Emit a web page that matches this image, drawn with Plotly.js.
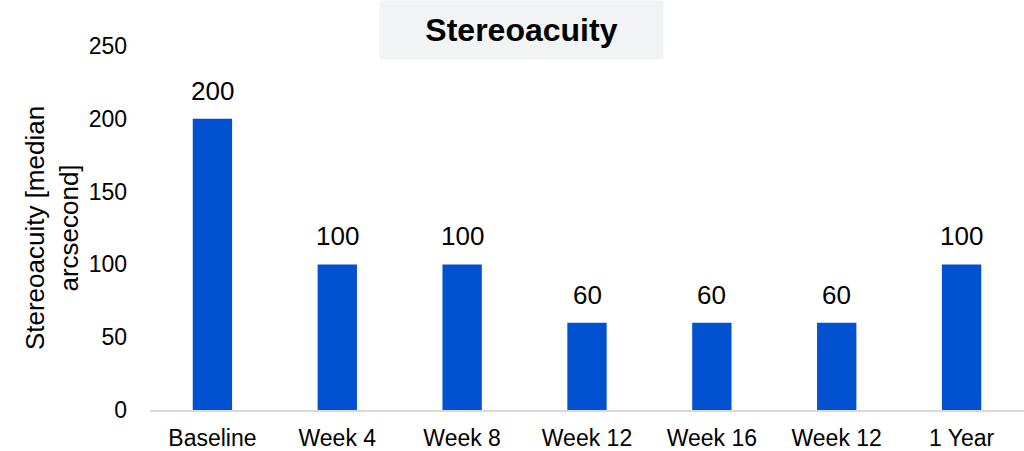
<!DOCTYPE html>
<html>
<head>
<meta charset="utf-8">
<script src="https://cdn.plot.ly/plotly-3.0.1.min.js"></script>
<style>html,body{margin:0;padding:0;background:#fff;}#chart{width:1024px;height:451px;}</style>
</head>
<body>
<div id="chart"></div>
<script>
const categories = ["Baseline", "Week 4", "Week 8", "Week 12", "Week 16", "Week 12", "1 Year"];
const values = [200, 100, 100, 60, 60, 60, 100];
const yTicks = [0, 50, 100, 150, 200, 250];

const positions = categories.map((c, i) => i);
const FONT = "Liberation Sans, Arial, sans-serif";

const trace = {
  type: "bar",
  x: positions,
  y: values,
  width: 0.315,
  marker: {color: "#0251D0"},
  hoverinfo: "none"
};

const labelAnnotations = values.map((v, i) => ({
  xref: "x", yref: "y",
  x: positions[i], y: v,
  xanchor: "center", yanchor: "bottom",
  text: String(v),
  showarrow: false,
  yshift: 11,
  font: {family: FONT, size: 26, color: "#000"}
}));

const layout = {
  width: 1024,
  height: 451,
  margin: {l: 150, r: 0, t: 46, b: 41},
  paper_bgcolor: "#ffffff",
  plot_bgcolor: "#ffffff",
  showlegend: false,
  font: {family: FONT, size: 20, color: "#000"},
  xaxis: {
    range: [-0.5, 6.5],
    tickmode: "array",
    tickvals: positions,
    ticktext: categories,
    showgrid: false,
    zeroline: false,
    showline: true,
    linecolor: "#D9D9D9",
    linewidth: 1.5,
    ticks: "",
    ticklabelstandoff: 7,
    tickfont: {size: 23, color: "#000"},
    fixedrange: true
  },
  yaxis: {
    range: [0, 250],
    tickmode: "array",
    tickvals: yTicks,
    ticktext: yTicks.map(String),
    showgrid: false,
    zeroline: false,
    showline: false,
    ticks: "",
    ticklabelstandoff: 22,
    tickfont: {size: 23, color: "#000"},
    title: {text: "Stereoacuity [median<br>arcsecond]", font: {size: 26, color: "#000"}, standoff: 2},
    fixedrange: true
  },
  annotations: labelAnnotations.concat([{
    xref: "paper", yref: "paper",
    x: (521.5 - 150) / 874, y: 1,
    xanchor: "center", yanchor: "middle",
    text: "<b>Stereoacuity</b>",
    font: {family: FONT, size: 32, color: "#000"},
    showarrow: false,
    bgcolor: "#F2F3F5",
    width: 281,
    height: 56,
    yshift: 16
  }])
};

Plotly.newPlot("chart", [trace], layout, {displayModeBar: false, staticPlot: true});
</script>
</body>
</html>
